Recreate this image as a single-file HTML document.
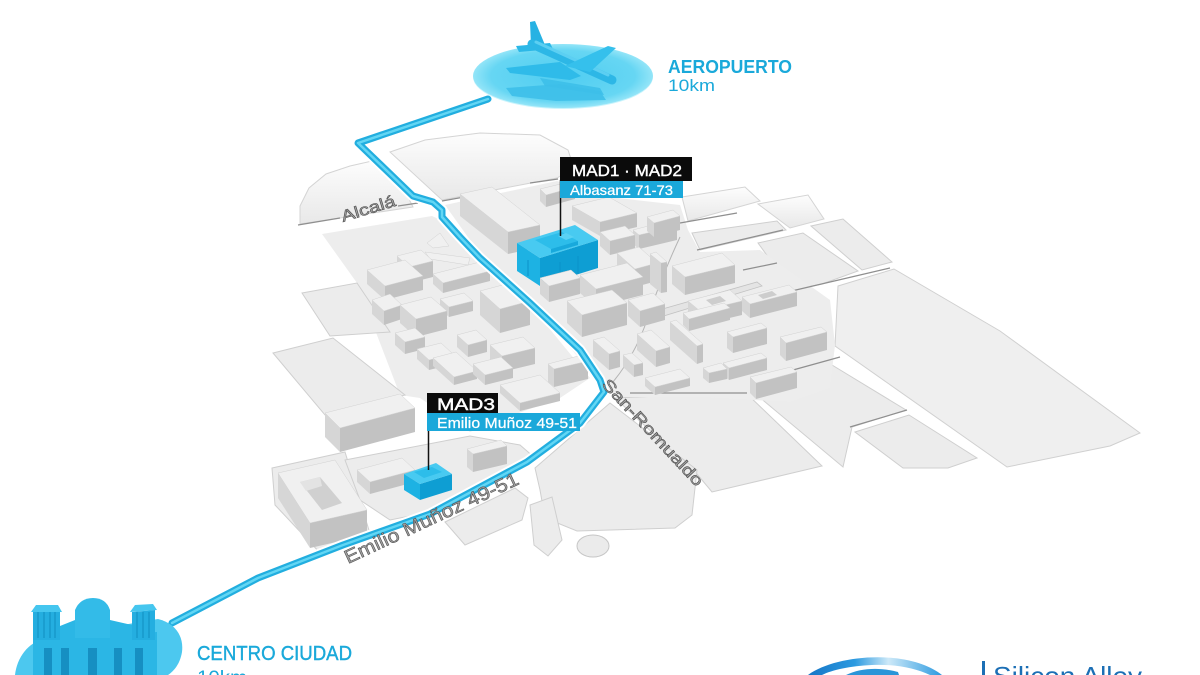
<!DOCTYPE html>
<html>
<head>
<meta charset="utf-8">
<style>
  html,body{margin:0;padding:0;background:#ffffff;}
  svg{display:block;}
  .g{fill:#ededed;}
  .s{fill:#ececec;stroke:#cfcfcf;stroke-width:1;}
  .t{fill:#f0f0f0;stroke:#d2d2d2;stroke-width:.5;}
  .l{fill:#d6d6d6;}
  .r{fill:#c2c2c2;}
  .bt{fill:#48caf1;}
  .bl{fill:#1db2e3;}
  .br{fill:#0e9ed3;}
  .st{font-family:"Liberation Sans",Arial,sans-serif;fill:#a2a2a2;stroke:#4d4d4d;stroke-width:.55;}
  .ln{stroke:#8f8f8f;stroke-width:1.2;fill:none;}
  text{font-family:"Liberation Sans",Arial,sans-serif;}
</style>
</head>
<body>
<svg width="1200" height="675" viewBox="0 0 1200 675" xmlns="http://www.w3.org/2000/svg">
  <defs>
    <linearGradient id="fade" x1="0" y1="0" x2="0" y2="1">
      <stop offset="0" stop-color="#fdfdfd"/>
      <stop offset="1" stop-color="#e8e8e8"/>
    </linearGradient>
    <radialGradient id="ell" cx="0.5" cy="0.5" r="0.5">
      <stop offset="0" stop-color="#4fcdf1"/>
      <stop offset="0.8" stop-color="#66d6f3"/>
      <stop offset="1" stop-color="#94e5f8"/>
    </radialGradient>
    <linearGradient id="sw" x1="0" y1="0" x2="1" y2="0">
      <stop offset="0" stop-color="#1576c6"/>
      <stop offset="0.35" stop-color="#2c9ae0"/>
      <stop offset="0.6" stop-color="#cde9f8"/>
      <stop offset="1" stop-color="#2b9ae0"/>
    </linearGradient>
  </defs>

  <rect width="1200" height="675" fill="#ffffff"/>

  <!-- ============ GROUND SLABS ============ -->
  <polygon fill="url(#fade)" stroke="#d4d4d4" stroke-width="1" points="300,224 300,206 309,188 326,174 350,166 372,161 409,199 413,207"/>
  <polygon fill="url(#fade)" stroke="#d4d4d4" stroke-width="1" points="390,152 425,140 480,133 540,135 568,150 574,168 557,178 442,200"/>
  <polygon fill="url(#fade)" stroke="#d4d4d4" stroke-width="1" points="682,197 745,187 760,201 688,221"/>
  <polygon fill="url(#fade)" stroke="#d4d4d4" stroke-width="1" points="758,204 808,195 824,219 790,228"/>
  <polygon class="s" points="692,233 777,221 786,230 700,250"/>
  <polygon class="s" points="758,243 803,233 858,271 822,284 792,290"/>
  <polygon class="s" points="811,226 843,219 892,262 862,270"/>
  <polygon fill="#efefef" stroke="#d0d0d0" stroke-width="1" points="838,286 894,269 1000,331 1140,433 1110,446 1007,467 835,346"/>
  <polygon class="s" points="855,432 909,415 977,458 948,468 903,468"/>
  <polygon class="s" points="752,391 832,365 906,410 852,427 843,467"/>
  <polygon class="s" points="615,398 745,392 822,466 712,492 697,474"/>
  <polygon class="g" points="445,205 557,181 600,196 680,205 688,230 700,252 760,250 830,300 835,345 830,388 790,402 700,397 620,397 605,388 530,302 470,240"/>
  <polygon class="g" points="322,234 432,216 445,222 530,305 590,378 560,398 505,418 470,432 420,398 400,395 357,283"/>
  <polygon class="s" points="302,293 357,283 390,332 330,336"/>
  <polygon class="s" points="273,353 333,338 405,395 325,415"/>
  <polygon class="s" points="272,468 345,452 372,540 322,555 275,505"/>
  <polygon class="s" points="345,460 470,436 520,445 535,458 430,512 390,520 360,500"/>
  <polygon class="s" points="445,522 515,488 528,498 522,520 465,545"/>
  <polygon class="s" points="535,468 610,403 697,470 692,515 675,528 577,531 545,518 540,490"/>
  <polygon class="s" points="530,505 552,497 562,540 548,556 534,545"/>
  <ellipse cx="593" cy="546" rx="16" ry="11" fill="#ebebeb" stroke="#c6c6c6"/>

  <!-- small raised wedges near Alcalá -->
  <polygon class="t" points="427,243 440,233 449,246 433,248"/>
  <polygon class="t" points="425,252 470,258 468,265 430,259"/>

  <!-- street edge lines -->
  <path class="ln" d="M298,225 L340,218 M398,206 L418,203 M442,201 L470,196 M530,183 L558,179"/>
  <path class="ln" d="M680,223 L737,213 M697,250 L783,230 M743,270 L777,263 M783,293 L890,268 M793,370 L840,357 M850,427 L907,410 M630,393 L747,393"/>
  <path d="M680,237 Q660,280 647,320 Q635,355 613,382" stroke="#b4b4b4" stroke-width="1" fill="none"/>
  <path d="M652,312 L757,282 L762,286 L657,318 Z" fill="#e4e4e4" stroke="#c2c2c2" stroke-width=".8"/>

  <!-- ============ BUILDINGS ============ -->
  <!-- G1 -->
  <polygon class="l" points="540,189 546,195 546,207 540,201"/><polygon class="r" points="546,195 575,187 575,199 546,207"/><polygon class="t" points="540,189 546,195 575,187 569,182"/>
  <!-- G2 -->
  <polygon class="l" points="572,206 600,222 600,236 572,220"/><polygon class="r" points="600,222 637,213 637,227 600,236"/><polygon class="t" points="572,206 600,222 637,213 609,197"/>
  <!-- E6 -->
  <polygon class="l" points="633,230 639,235 639,249 633,244"/><polygon class="r" points="639,235 677,226 677,240 639,249"/><polygon class="t" points="633,230 639,235 677,226 671,220"/>
  <!-- W0 -->
  <polygon class="l" points="460,194 508,232 508,254 460,216"/><polygon class="r" points="508,232 540,225 540,247 508,254"/><polygon class="t" points="460,194 508,232 540,225 492,187"/>
  <!-- G3 -->
  <polygon class="l" points="647,217 654,223 654,237 647,231"/><polygon class="r" points="654,223 680,216 680,230 654,237"/><polygon class="t" points="647,217 654,223 680,216 673,210"/>
  <!-- E14 -->
  <polygon class="l" points="600,232 610,241 610,255 600,246"/><polygon class="r" points="610,241 635,235 635,249 610,255"/><polygon class="t" points="600,232 610,241 635,235 625,226"/>
  <!-- F1 -->
  <polygon class="l" points="672,266 685,277 685,295 672,284"/><polygon class="r" points="685,277 735,265 735,283 685,295"/><polygon class="t" points="672,266 685,277 735,265 722,253"/>
  <!-- E5 -->
  <polygon class="l" points="617,253 635,269 635,287 617,271"/><polygon class="r" points="635,269 657,263 657,281 635,287"/><polygon class="t" points="617,253 635,269 657,263 639,247"/>
  <!-- E7 -->
  <polygon class="l" points="650,254 661,263 661,293 650,284"/><polygon class="r" points="661,263 667,262 667,292 661,293"/><polygon class="t" points="650,254 661,263 667,262 656,252"/>
  <!-- W2 -->
  <polygon class="l" points="397,256 409,267 409,283 397,272"/><polygon class="r" points="409,267 433,261 433,277 409,283"/><polygon class="t" points="397,256 409,267 433,261 421,250"/>
  <!-- W1 -->
  <polygon class="l" points="367,270 385,286 385,300 367,284"/><polygon class="r" points="385,286 423,276 423,290 385,300"/><polygon class="t" points="367,270 385,286 423,276 405,260"/>
  <!-- W3 -->
  <polygon class="l" points="433,274 443,283 443,293 433,284"/><polygon class="r" points="443,283 490,271 490,281 443,293"/><polygon class="t" points="433,274 443,283 490,271 480,262"/>
  <!-- F2b -->
  <polygon class="l" points="742,297 750,304 750,318 742,311"/><polygon class="r" points="750,304 797,292 797,306 750,318"/><polygon class="t" points="742,297 750,304 797,292 789,285"/><polygon fill="#cdcdcd" points="758,295 763,299 777,295 772,291"/>
  <!-- F2a -->
  <polygon class="l" points="688,301 700,311 700,325 688,315"/><polygon class="r" points="700,311 742,301 742,315 700,325"/><polygon class="t" points="688,301 700,311 742,301 730,290"/><polygon fill="#cdcdcd" points="706,300 712,305 726,301 720,296"/>
  <!-- W18 -->
  <polygon class="l" points="372,300 384,311 384,325 372,314"/><polygon class="r" points="384,311 402,305 402,319 384,325"/><polygon class="t" points="372,300 384,311 402,305 390,294"/>
  <!-- W6 -->
  <polygon class="l" points="480,291 500,309 500,333 480,315"/><polygon class="r" points="500,309 530,301 530,325 500,333"/><polygon class="t" points="480,291 500,309 530,301 510,283"/>
  <!-- E16 -->
  <polygon class="l" points="628,300 640,311 640,327 628,316"/><polygon class="r" points="640,311 665,304 665,320 640,327"/><polygon class="t" points="628,300 640,311 665,304 653,293"/>
  <!-- F4 -->
  <polygon class="l" points="727,332 733,337 733,353 727,348"/><polygon class="r" points="733,337 767,328 767,344 733,353"/><polygon class="t" points="727,332 733,337 767,328 761,323"/>
  <!-- F5 -->
  <polygon class="l" points="780,337 786,343 786,361 780,355"/><polygon class="r" points="786,343 827,332 827,350 786,361"/><polygon class="t" points="780,337 786,343 827,332 821,327"/>
  <!-- W5 -->
  <polygon class="l" points="440,299 449,307 449,317 440,309"/><polygon class="r" points="449,307 473,301 473,311 449,317"/><polygon class="t" points="440,299 449,307 473,301 464,293"/>
  <!-- E11 -->
  <polygon class="l" points="683,313 689,319 689,331 683,325"/><polygon class="r" points="689,319 730,308 730,320 689,331"/><polygon class="t" points="683,313 689,319 730,308 724,303"/>
  <!-- E10 -->
  <polygon class="l" points="670,322 697,346 697,364 670,340"/><polygon class="r" points="697,346 703,344 703,362 697,364"/><polygon class="t" points="670,322 697,346 703,344 676,320"/>
  <!-- W4 -->
  <polygon class="l" points="400,305 416,319 416,337 400,323"/><polygon class="r" points="416,319 447,311 447,329 416,337"/><polygon class="t" points="400,305 416,319 447,311 431,297"/>
  <!-- W22 -->
  <polygon class="l" points="395,333 405,342 405,354 395,345"/><polygon class="r" points="405,342 425,337 425,349 405,354"/><polygon class="t" points="395,333 405,342 425,337 415,328"/>
  <!-- E9 -->
  <polygon class="l" points="637,334 656,351 656,367 637,350"/><polygon class="r" points="656,351 670,347 670,363 656,367"/><polygon class="t" points="637,334 656,351 670,347 651,330"/>
  <!-- W7 -->
  <polygon class="l" points="457,335 468,345 468,357 457,347"/><polygon class="r" points="468,345 487,340 487,352 468,357"/><polygon class="t" points="457,335 468,345 487,340 476,330"/>
  <!-- W20 -->
  <polygon class="l" points="490,345 502,356 502,372 490,361"/><polygon class="r" points="502,356 535,348 535,364 502,372"/><polygon class="t" points="490,345 502,356 535,348 523,337"/>
  <!-- W9 -->
  <polygon class="l" points="417,349 429,360 429,370 417,359"/><polygon class="r" points="429,360 453,354 453,364 429,370"/><polygon class="t" points="417,349 429,360 453,354 441,343"/>
  <!-- E4 -->
  <polygon class="l" points="593,340 609,354 609,370 593,356"/><polygon class="r" points="609,354 620,351 620,367 609,370"/><polygon class="t" points="593,340 609,354 620,351 604,337"/>
  <!-- F6 -->
  <polygon class="l" points="723,363 729,368 729,380 723,375"/><polygon class="r" points="729,368 767,358 767,370 729,380"/><polygon class="t" points="723,363 729,368 767,358 761,353"/>
  <!-- W10 -->
  <polygon class="l" points="433,358 454,377 454,385 433,366"/><polygon class="r" points="454,377 477,371 477,379 454,385"/><polygon class="t" points="433,358 454,377 477,371 456,352"/>
  <!-- W11 -->
  <polygon class="l" points="473,364 485,375 485,385 473,374"/><polygon class="r" points="485,375 513,368 513,378 485,385"/><polygon class="t" points="473,364 485,375 513,368 501,357"/>
  <!-- E13 -->
  <polygon class="l" points="623,355 634,365 634,377 623,367"/><polygon class="r" points="634,365 643,363 643,375 634,377"/><polygon class="t" points="623,355 634,365 643,363 632,353"/>
  <!-- F3 -->
  <polygon class="l" points="645,378 655,387 655,395 645,386"/><polygon class="r" points="655,387 690,378 690,386 655,395"/><polygon class="t" points="645,378 655,387 690,378 680,369"/>
  <!-- E12 -->
  <polygon class="l" points="703,368 709,373 709,383 703,378"/><polygon class="r" points="709,373 727,369 727,379 709,383"/><polygon class="t" points="703,368 709,373 727,369 721,363"/>
  <!-- F7 -->
  <polygon class="l" points="750,377 756,383 756,399 750,393"/><polygon class="r" points="756,383 797,372 797,388 756,399"/><polygon class="t" points="750,377 756,383 797,372 791,367"/>
  <!-- W12 -->
  <polygon class="l" points="548,364 554,369 554,387 548,382"/><polygon class="r" points="554,369 588,361 588,379 554,387"/><polygon class="t" points="548,364 554,369 588,361 582,355"/>
  <!-- W21 -->
  <polygon class="l" points="500,385 520,403 520,411 500,393"/><polygon class="r" points="520,403 560,393 560,401 520,411"/><polygon class="t" points="500,385 520,403 560,393 540,375"/>
  <!-- W13 -->
  <polygon class="l" points="325,413 340,428 340,452 325,437"/><polygon class="r" points="340,428 415,408 415,432 340,452"/><polygon class="t" points="325,413 340,428 415,408 400,394"/>
  <!-- W16 -->
  <polygon class="l" points="357,470 370,482 370,494 357,482"/><polygon class="r" points="370,482 415,470 415,482 370,494"/><polygon class="t" points="357,470 370,482 415,470 402,458"/>
  <!-- W17 -->
  <polygon class="l" points="467,449 473,454 473,472 467,467"/><polygon class="r" points="473,454 507,446 507,464 473,472"/><polygon class="t" points="467,449 473,454 507,446 501,440"/>
  <!-- W15 courtyard -->
  <polygon class="l" points="278,473 310,523 310,548 278,498"/><polygon class="r" points="310,523 367,510 367,535 310,548"/><polygon class="t" points="278,473 310,523 367,510 335,460"/>
  <polygon fill="#d0d0d0" points="300,482 320,477 342,503 322,510"/>
  <polygon fill="#e3e3e3" points="300,482 320,477 322,486 306,491"/>

  <!-- MAD1 · MAD2 blue building -->
  <polygon class="bl" points="517,243 540,258 540,286 517,271"/>
  <polygon class="br" points="540,258 598,240 598,268 540,286"/>
  <polygon class="bt" points="517,243 540,258 598,240 575,225"/>
  <polygon fill="#2dbdea" points="535,240 551,249 578,241 562,232"/>
  <polygon fill="#18a9dc" points="551,249 578,241 578,245 551,253"/>
  <polygon fill="#5ad2f4" points="558,236 566,240 574,237 566,233"/>
  <path d="M528,260 L528,276 M560,262 L560,280 M578,256 L578,274" stroke="#0a93c8" stroke-width="1"/>

  <!-- buildings in front of MAD1 -->
  <polygon class="l" points="540,278 549,286 549,302 540,294"/><polygon class="r" points="549,286 580,278 580,294 549,302"/><polygon class="t" points="540,278 549,286 580,278 571,270"/>
  <polygon class="l" points="580,275 596,289 596,307 580,293"/><polygon class="r" points="596,289 643,277 643,295 596,307"/><polygon class="t" points="580,275 596,289 643,277 627,263"/>
  <polygon class="l" points="567,301 582,315 582,337 567,323"/><polygon class="r" points="582,315 627,303 627,325 582,337"/><polygon class="t" points="567,301 582,315 627,303 612,290"/>

  <!-- ============ ROUTE ============ -->
  <path d="M172,623 L258,578 L343,545 L430,514 L527,462 L580,423 L604,392 L600,380 L580,350 L530,303 L480,258 L460,237 L442,217 L442,210 L433,202 L413,196 L358,143 L488,99"
        fill="none" stroke="#ffffff" stroke-width="11" stroke-linejoin="round" stroke-linecap="round"/>
  <path d="M172,623 L258,578 L343,545 L430,514 L527,462 L580,423 L604,392 L600,380 L580,350 L530,303 L480,258 L460,237 L442,217 L442,210 L433,202 L413,196 L358,143 L488,99"
        fill="none" stroke="#22aedf" stroke-width="7" stroke-linejoin="round" stroke-linecap="round"/>
  <path d="M172,623 L258,578 L343,545 L430,514 L527,462 L580,423 L604,392 L600,380 L580,350 L530,303 L480,258 L460,237 L442,217 L442,210 L433,202 L413,196 L358,143 L488,99"
        fill="none" stroke="#62d6f4" stroke-width="2.5" stroke-linejoin="round" stroke-linecap="round"/>

  <!-- MAD3 blue building -->
  <polygon class="bl" points="404,474 420,484 420,500 404,490"/>
  <polygon class="br" points="420,484 452,474 452,490 420,500"/>
  <polygon class="bt" points="404,474 420,484 452,474 436,463"/>
  <polygon fill="#2dbdea" points="414,472 424,478 442,472 432,467"/>

  <!-- ============ LABELS ============ -->
  <line x1="560.5" y1="180" x2="560.5" y2="236" stroke="#111" stroke-width="1.5"/>
  <rect x="560" y="157" width="132" height="24" fill="#0b0b0b"/>
  <text x="572" y="176" font-size="16" fill="#ffffff" stroke="#ffffff" stroke-width="0.4" textLength="110" lengthAdjust="spacingAndGlyphs">MAD1 · MAD2</text>
  <rect x="560" y="181" width="123" height="17" fill="#1aa8da"/>
  <text x="570" y="195" font-size="14" fill="#ffffff" stroke="#ffffff" stroke-width="0.25" textLength="103" lengthAdjust="spacingAndGlyphs">Albasanz 71-73</text>

  <line x1="428.5" y1="412" x2="428.5" y2="470" stroke="#111" stroke-width="1.5"/>
  <rect x="427" y="393" width="71" height="20" fill="#0b0b0b"/>
  <text x="437" y="410" font-size="17" fill="#ffffff" stroke="#ffffff" stroke-width="0.45" textLength="58" lengthAdjust="spacingAndGlyphs">MAD3</text>
  <rect x="427" y="413" width="153" height="18" fill="#1aa8da"/>
  <text x="437" y="428" font-size="14.5" fill="#ffffff" stroke="#ffffff" stroke-width="0.25" textLength="140" lengthAdjust="spacingAndGlyphs">Emilio Muñoz 49-51</text>

  <!-- street names -->
  <text class="st" x="343" y="222" font-size="16" transform="rotate(-17 343 222)" textLength="56" lengthAdjust="spacingAndGlyphs">Alcalá</text>
  <text class="st" x="601" y="385" font-size="16" transform="rotate(47 601 385)" textLength="140" lengthAdjust="spacingAndGlyphs">San-Romualdo</text>
  <text class="st" x="348" y="564" font-size="19" transform="rotate(-25 348 564)" textLength="190" lengthAdjust="spacingAndGlyphs">Emilio Muñoz 49-51</text>

  <!-- ============ AIRPORT ============ -->
  <ellipse cx="563" cy="77" rx="90" ry="32" fill="#a9ecfa" opacity="0.6"/>
  <ellipse cx="563" cy="76" rx="90" ry="32" fill="url(#ell)"/>
  <polygon fill="#3dbfe9" opacity="0.9" points="506,88 560,84 600,91 606,100 556,101 512,96"/>
  <polygon fill="#3dbfe9" opacity="0.9" points="540,78 600,88 604,95 545,86"/>
  <!-- plane -->
  <polygon fill="#27b2e3" points="530,22 535,21 545,45 531,46"/>
  <polygon fill="#2cb8e7" points="516,46 550,43 553,49 519,52"/>
  <polygon fill="#2fbbe9" points="506,68 560,62 581,76 570,80 510,73"/>
  <path d="M532,44 L612,80" stroke="#2db7e6" stroke-width="9" stroke-linecap="round"/>
  <path d="M536,42 L608,75" stroke="#5ccff2" stroke-width="3" stroke-linecap="round"/>
  <polygon fill="#35c0ec" points="565,66 608,46 616,48 590,72"/>

  <text x="668" y="73" font-size="18" font-weight="bold" fill="#1aa9da" textLength="124" lengthAdjust="spacingAndGlyphs">AEROPUERTO</text>
  <text x="668" y="91" font-size="17" fill="#1aa9da" textLength="47" lengthAdjust="spacingAndGlyphs">10km</text>

  <!-- ============ CENTRO CIUDAD ============ -->
  <path d="M15,675 C17,657 28,643 45,638 L158,619 C175,623 184,636 182,652 C180,664 174,671 168,675 Z" fill="#4cc8ef"/>
  <polygon fill="#2bb6e5" points="33,637 157,632 157,675 33,675"/>
  <polygon fill="#24aee0" points="33,612 60,612 60,640 33,640"/>
  <polygon fill="#45c6ef" points="31,612 36,605 58,605 62,612"/>
  <path d="M38,612 L38,638 M44,612 L44,638 M50,612 L50,638 M55,612 L55,638" stroke="#1594c6" stroke-width="1.2"/>
  <polygon fill="#2bb6e5" points="60,626 75,620 110,620 132,625 132,640 60,640"/>
  <path d="M75,638 L75,610 Q80,598 93,598 Q106,598 110,610 L110,638 Z" fill="#33bbe8"/>
  <polygon fill="#24aee0" points="132,612 155,610 155,640 132,640"/>
  <polygon fill="#45c6ef" points="130,612 135,605 153,604 157,610"/>
  <path d="M137,612 L137,638 M143,612 L143,638 M149,612 L149,638" stroke="#1594c6" stroke-width="1.2"/>
  <rect x="44" y="648" width="8" height="27" fill="#168fc2"/>
  <rect x="61" y="648" width="8" height="27" fill="#168fc2"/>
  <rect x="88" y="648" width="9" height="27" fill="#168fc2"/>
  <rect x="114" y="648" width="8" height="27" fill="#168fc2"/>
  <rect x="135" y="648" width="8" height="27" fill="#168fc2"/>

  <text x="197" y="660" font-size="20" fill="#1aa9da" stroke="#1aa9da" stroke-width="0.4" textLength="155" lengthAdjust="spacingAndGlyphs">CENTRO CIUDAD</text>
  <text x="197" y="684" font-size="19" fill="#1aa9da" textLength="50" lengthAdjust="spacingAndGlyphs">10km</text>

  <!-- ============ LOGO ============ -->
  <path d="M808,675 C826,662 860,655 893,658 C915,660 932,667 942,675 L930,675 C915,668 895,664 872,665 C850,666 832,670 822,675 Z" fill="url(#sw)"/>
  <path d="M846,675 C860,668 880,667 898,672 L899,675 Z" fill="#2a95d8"/>
  <rect x="982" y="661" width="3" height="14" fill="#1c6fb5"/>
  <text x="993" y="685" font-size="26" fill="#1c6fb5" textLength="149" lengthAdjust="spacingAndGlyphs">Silicon Alley</text>
</svg>
</body>
</html>
